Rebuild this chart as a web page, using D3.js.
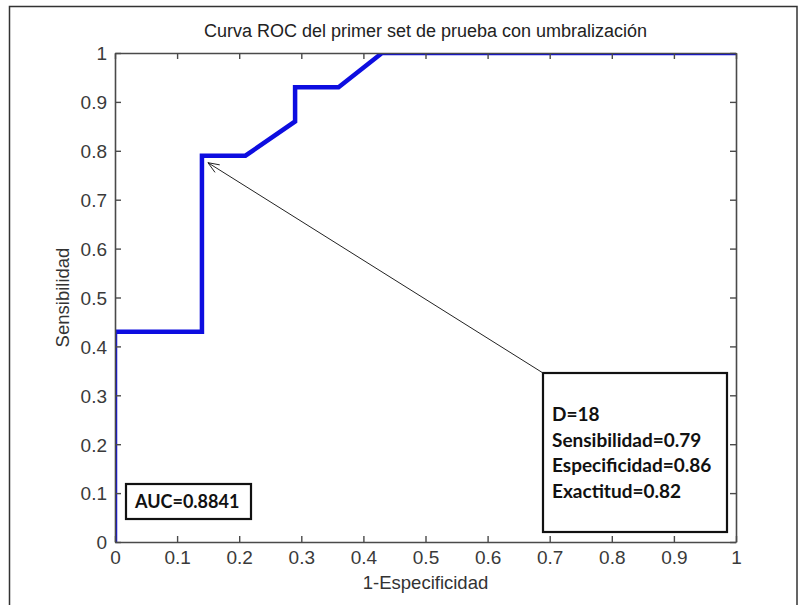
<!DOCTYPE html>
<html>
<head>
<meta charset="utf-8">
<script src="https://cdn.jsdelivr.net/npm/d3@7"></script>
<style>
  html, body { margin: 0; padding: 0; background: #fff; }
  svg { display: block; }
</style>
</head>
<body>
<svg id="chart" width="799" height="605"></svg>
<script>
// ROC curve points (false positive rate = 1 - specificity, true positive rate = sensitivity)
const fpr = [0, 0, 0.14, 0.14, 0.21, 0.29, 0.29, 0.36, 0.43, 1];
const tpr = [0, 0.43, 0.43, 0.79, 0.79, 0.86, 0.93, 0.93, 1, 1];

const xTicks = [0, 0.1, 0.2, 0.3, 0.4, 0.5, 0.6, 0.7, 0.8, 0.9, 1];
const yTicks = [0, 0.1, 0.2, 0.3, 0.4, 0.5, 0.6, 0.7, 0.8, 0.9, 1];
const tickLabels = ["0", "0.1", "0.2", "0.3", "0.4", "0.5", "0.6", "0.7", "0.8", "0.9", "1"];

const titleText = "Curva ROC del primer set de prueba con umbralización";
const xLabel = "1-Especificidad";
const yLabel = "Sensibilidad";

// Selected operating point
const opThreshold = 18;
const opSens = 0.79;
const opSpec = 0.86;
const opAcc = 0.82;
const auc = 0.8841;

const svg = d3.select("#chart");
const margin = { left: 115, top: 53, right: 799 - 736, bottom: 605 - 542 };
const W = 799 - margin.left - margin.right;
const H = 605 - margin.top - margin.bottom;

const x = d3.scaleLinear().domain([0, 1]).range([margin.left, margin.left + W]);
const y = d3.scaleLinear().domain([0, 1]).range([margin.top + H, margin.top]);

// Outer figure frame
svg.append("rect")
  .attr("x", 9.5).attr("y", 6.5)
  .attr("width", 797 - 9.5).attr("height", 620)
  .attr("fill", "none").attr("stroke", "#333").attr("stroke-width", 1.5);

// Plot area clip so the curve is cut at the axes box
svg.append("defs").append("clipPath").attr("id", "plot-clip")
  .append("rect")
  .attr("x", x(0)).attr("y", y(1))
  .attr("width", x(1) - x(0)).attr("height", y(0) - y(1));

// ROC curve
const pts = fpr.map((f, i) => [f, tpr[i]]);
const line = d3.line().x(d => x(d[0])).y(d => y(d[1]));
svg.append("path")
  .datum(pts)
  .attr("clip-path", "url(#plot-clip)")
  .attr("d", line)
  .attr("fill", "none")
  .attr("stroke", "#0d0de0")
  .attr("stroke-width", 4.5)
  .attr("stroke-linejoin", "miter");

const axisColor = "#4a4a4a";
const tickFont = "'Liberation Sans', Arial, sans-serif";

// Axes with inward ticks on all four sides, drawn over the curve
const tickLen = 6;
const axBottom = svg.append("g").attr("transform", `translate(0,${y(0)})`)
  .call(d3.axisBottom(x).tickValues(xTicks).tickSizeInner(-tickLen).tickSizeOuter(0)
    .tickFormat((d, i) => tickLabels[i]).tickPadding(9));
const axLeft = svg.append("g").attr("transform", `translate(${x(0)},0)`)
  .call(d3.axisLeft(y).tickValues(yTicks).tickSizeInner(-tickLen).tickSizeOuter(0)
    .tickFormat((d, i) => tickLabels[i]).tickPadding(8));
const axTop = svg.append("g").attr("transform", `translate(0,${y(1)})`)
  .call(d3.axisTop(x).tickValues(xTicks).tickSizeInner(-tickLen).tickSizeOuter(0).tickFormat(""));
const axRight = svg.append("g").attr("transform", `translate(${x(1)},0)`)
  .call(d3.axisRight(y).tickValues(yTicks).tickSizeInner(-tickLen).tickSizeOuter(0).tickFormat(""));

[axBottom, axLeft, axTop, axRight].forEach(g => {
  g.select(".domain").attr("stroke", axisColor).attr("stroke-width", 1.6);
  g.selectAll(".tick line").attr("stroke", axisColor).attr("stroke-width", 1.4);
  g.selectAll(".tick text")
    .attr("fill", "#3a3a3a")
    .style("font-family", tickFont)
    .style("font-size", "19px");
});
axBottom.selectAll(".tick text").attr("dy", "0.71em");
axLeft.selectAll(".tick text").attr("dy", "0.36em");

// Title and axis labels
svg.append("text")
  .attr("x", (x(0) + x(1)) / 2).attr("y", 37)
  .attr("text-anchor", "middle")
  .attr("fill", "#222")
  .style("font-family", tickFont).style("font-size", "18px")
  .text(titleText);

svg.append("text")
  .attr("x", (x(0) + x(1)) / 2).attr("y", 589)
  .attr("text-anchor", "middle")
  .attr("fill", "#333")
  .style("font-family", tickFont).style("font-size", "18.5px")
  .text(xLabel);

svg.append("text")
  .attr("transform", `translate(69,${(y(0) + y(1)) / 2}) rotate(-90)`)
  .attr("text-anchor", "middle")
  .attr("fill", "#333")
  .style("font-family", tickFont).style("font-size", "18.5px")
  .text(yLabel);

// Annotation box with operating point details
const boldFont = "Lato, 'Open Sans', sans-serif";
const box = { x0: 543, y0: 373, x1: 727, y1: 532 };
svg.append("rect")
  .attr("x", box.x0).attr("y", box.y0)
  .attr("width", box.x1 - box.x0).attr("height", box.y1 - box.y0)
  .attr("fill", "#fff").attr("stroke", "#111").attr("stroke-width", 2.2);

const infoLines = [
  `D=${opThreshold}`,
  `Sensibilidad=${opSens}`,
  `Especificidad=${opSpec}`,
  `Exactitud=${opAcc}`
];
svg.append("g").selectAll("text")
  .data(infoLines)
  .join("text")
  .attr("x", box.x0 + 9)
  .attr("y", (d, i) => 421 + i * 25.5)
  .attr("fill", "#111")
  .style("font-family", boldFont).style("font-weight", "bold").style("font-size", "19px")
  .text(d => d);

// Arrow from the box to the operating point on the curve
const tipX = x(1 - opSpec) + 6;
const tipY = y(opSens) + 7;
const tailX = box.x0, tailY = box.y0;
svg.append("line")
  .attr("x1", tailX).attr("y1", tailY).attr("x2", tipX).attr("y2", tipY)
  .attr("stroke", "#222").attr("stroke-width", 1);
const ang = Math.atan2(tipY - tailY, tipX - tailX);
const headLen = 12, spread = 0.38;
[ang + Math.PI - spread, ang + Math.PI + spread].forEach(a => {
  svg.append("line")
    .attr("x1", tipX).attr("y1", tipY)
    .attr("x2", tipX + headLen * Math.cos(a)).attr("y2", tipY + headLen * Math.sin(a))
    .attr("stroke", "#222").attr("stroke-width", 1);
});

// AUC label box
svg.append("rect")
  .attr("x", 126).attr("y", 484).attr("width", 125).attr("height", 35)
  .attr("fill", "#fff").attr("stroke", "#111").attr("stroke-width", 2.2);
svg.append("text")
  .attr("x", 135).attr("y", 508)
  .attr("fill", "#111")
  .style("font-family", boldFont).style("font-weight", "bold").style("font-size", "18px")
  .text(`AUC=${auc}`);
</script>
</body>
</html>
